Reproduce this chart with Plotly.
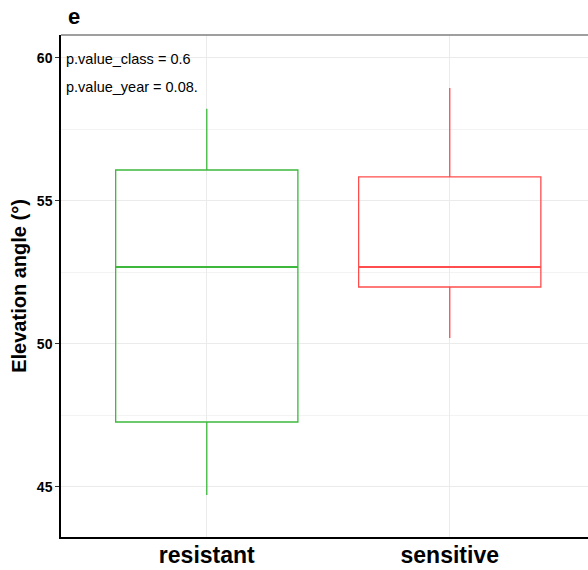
import plotly.graph_objects as go

categories = ["resistant", "sensitive"]
lower_whisker = [44.72, 50.21]
q1 = [47.27, 51.99]
median = [52.69, 52.69]
q3 = [56.08, 55.84]
upper_whisker = [58.22, 58.95]
colors = ["#3DB83D", "#FF4D4D"]
y_ticks = [45, 50, 55, 60]
notes = ["p.value_class = 0.6", "p.value_year = 0.08."]

FONT = "Liberation Sans, Arial, sans-serif"
fig = go.Figure()
for i, c in enumerate(categories):
    xpos = i + 1
    fig.add_trace(go.Box(
        x=[xpos], q1=[q1[i]], median=[median[i]], q3=[q3[i]],
        lowerfence=[lower_whisker[i]], upperfence=[upper_whisker[i]],
        width=0.75, fillcolor="rgba(255,255,255,0)",
        line=dict(color=colors[i], width=1.3), whiskerwidth=0,
        boxpoints=False, showlegend=False, hoverinfo="skip"))
    fig.add_trace(go.Scatter(
        x=[xpos - 0.375, xpos + 0.375], y=[median[i], median[i]],
        mode="lines", line=dict(color=colors[i], width=2.2),
        showlegend=False, hoverinfo="skip"))

fig.update_layout(
    width=588, height=570,
    margin=dict(l=61, r=0, t=35, b=33),
    paper_bgcolor="white", plot_bgcolor="white",
    font=dict(family=FONT, color="black"),
    xaxis=dict(range=[0.4, 2.569], tickmode="array", tickvals=[1, 2],
               ticktext=[f"<b>{c}</b>" for c in categories],
               tickfont=dict(size=23, color="black"), automargin=False,
               ticklabelstandoff=-3,
               showgrid=True, gridcolor="#EBEBEB", gridwidth=1,
               showline=True, linecolor="black", linewidth=1.5,
               mirror=False, zeroline=False, ticks="", ticklen=0),
    yaxis=dict(range=[43.25, 60.8], tickmode="array", tickvals=y_ticks,
               ticktext=[f"<b>{v}</b>" for v in y_ticks],
               tickfont=dict(size=14, color="black"), automargin=False,
               showgrid=True, gridcolor="#EBEBEB", gridwidth=1,
               minor=dict(tickvals=[47.5, 52.5, 57.5], showgrid=True,
                          gridcolor="#F3F3F3", gridwidth=1, ticks=""),
               showline=True, linecolor="black", linewidth=1.5,
               zeroline=False, ticks="outside", ticklen=4, tickcolor="#333333",
               title=dict(text="<b>Elevation angle (°)</b>",
                          font=dict(size=20, color="black"), standoff=5)),
)
# top border line
fig.add_shape(type="line", xref="paper", yref="paper", x0=0, x1=1, y0=1, y1=1,
              line=dict(color="#7F7F7F", width=1.5))
fig.add_annotation(text="<b>e</b>", xref="paper", yref="paper", x=0.01, y=1.0,
                   xanchor="left", yanchor="bottom", showarrow=False,
                   font=dict(size=22, color="black"), yshift=4)
for k, t in enumerate(notes):
    fig.add_annotation(text=t, xref="paper", yref="paper", x=0.006,
                       y=1 - (24 + 28 * k) / 502, xanchor="left", yanchor="middle",
                       showarrow=False, font=dict(size=14.5, color="black"))

fig.write_html("out.html")
